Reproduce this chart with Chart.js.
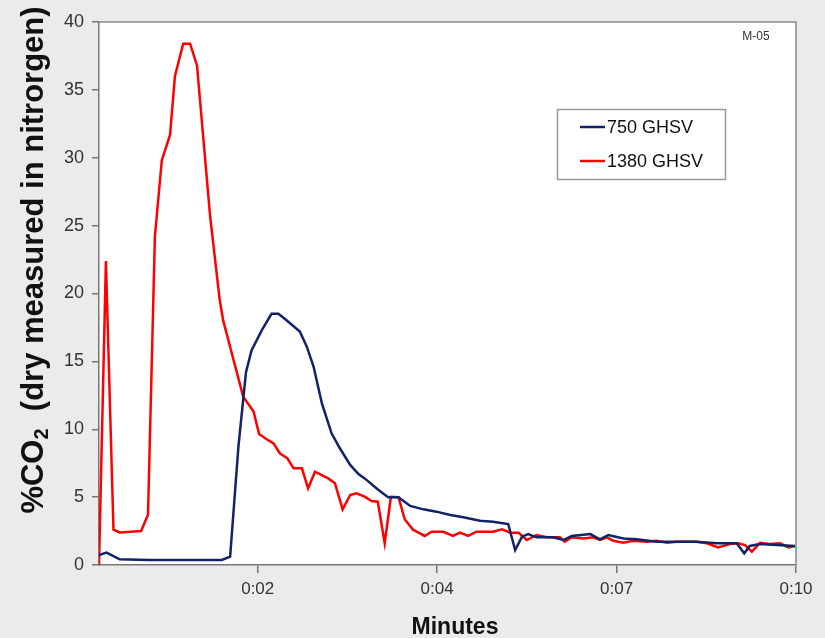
<!DOCTYPE html>
<html>
<head>
<meta charset="utf-8">
<script src="https://cdn.jsdelivr.net/npm/chart.js@4.4.0/dist/chart.umd.min.js"></script>
<style>
  html, body { margin: 0; padding: 0; background: #ebebeb; }
  #wrap { width: 825px; height: 638px; }
</style>
</head>
<body>
<div id="wrap"><canvas id="co2Chart" width="825" height="638"></canvas></div>
<script>
// data (x in minutes, y in %CO2)
const minutes750 = [0.00, 0.11, 0.30, 0.71, 1.20, 1.78, 1.90, 2.02, 2.13, 2.21, 2.36, 2.50, 2.60, 2.70, 2.91, 3.01, 3.11, 3.23, 3.37, 3.49, 3.64, 3.76, 3.85, 4.05, 4.19, 4.34, 4.51, 4.70, 4.89, 5.09, 5.28, 5.52, 5.71, 5.93, 6.03, 6.13, 6.22, 6.34, 6.58, 6.73, 6.85, 7.12, 7.26, 7.38, 7.60, 7.79, 8.08, 8.66, 8.95, 9.24, 9.35, 9.43, 9.58, 9.82, 10.09];
const co2_750 = [0.74, 0.91, 0.42, 0.37, 0.37, 0.37, 0.61, 8.7, 14.2, 15.8, 17.3, 18.5, 18.5, 18.1, 17.2, 16.1, 14.6, 11.9, 9.7, 8.6, 7.37, 6.70, 6.38, 5.52, 4.99, 4.99, 4.35, 4.10, 3.93, 3.68, 3.51, 3.26, 3.19, 3.02, 1.10, 2.09, 2.28, 2.04, 2.04, 1.84, 2.14, 2.28, 1.89, 2.21, 1.96, 1.89, 1.72, 1.72, 1.60, 1.60, 0.86, 1.40, 1.55, 1.47, 1.40];

const minutes1380 = [0.00, 0.10, 0.21, 0.30, 0.61, 0.71, 0.81, 0.91, 1.03, 1.10, 1.22, 1.32, 1.42, 1.61, 1.75, 1.80, 1.95, 2.09, 2.24, 2.32, 2.43, 2.53, 2.62, 2.73, 2.82, 2.94, 3.03, 3.13, 3.32, 3.42, 3.53, 3.64, 3.73, 3.85, 3.95, 4.04, 4.14, 4.23, 4.34, 4.43, 4.55, 4.65, 4.72, 4.82, 4.99, 5.13, 5.23, 5.35, 5.47, 5.71, 5.84, 5.96, 6.08, 6.20, 6.34, 6.49, 6.68, 6.75, 6.85, 7.02, 7.16, 7.26, 7.36, 7.45, 7.60, 7.74, 7.94, 8.08, 8.23, 8.37, 8.66, 8.81, 8.97, 9.14, 9.26, 9.36, 9.46, 9.58, 9.72, 9.87, 9.99, 10.09];
const co2_1380 = [0, 22.4, 2.6, 2.4, 2.5, 3.7, 24.2, 29.8, 31.7, 36.0, 38.4, 38.4, 36.8, 25.7, 19.5, 18.0, 15.1, 12.4, 11.3, 9.65, 9.26, 8.96, 8.23, 7.86, 7.12, 7.12, 5.65, 6.87, 6.38, 6.02, 4.10, 5.16, 5.28, 5.03, 4.71, 4.66, 1.60, 5.03, 4.99, 3.37, 2.6, 2.33, 2.14, 2.45, 2.45, 2.14, 2.38, 2.14, 2.45, 2.45, 2.63, 2.38, 2.38, 1.84, 2.21, 2.04, 2.04, 1.72, 2.04, 1.96, 2.04, 1.84, 2.04, 1.79, 1.64, 1.79, 1.72, 1.79, 1.64, 1.72, 1.72, 1.60, 1.30, 1.55, 1.60, 1.47, 0.98, 1.64, 1.55, 1.60, 1.30, 1.40];

const seriesLabels = ['750 GHSV', '1380 GHSV'];
const xTickMinutes = [2.3, 4.9, 7.5, 10.1];
const xTickLabels = ['0:02', '0:04', '0:07', '0:10'];

const FONT = "'Liberation Sans', Arial, sans-serif";
const BLUE = '#122268';
const RED = '#ff0000';

function toPoints(xs, ys) {
  return xs.map((x, i) => ({ x: x, y: ys[i] }));
}

// backgrounds, frame, axis titles, legend, note
const decorPlugin = {
  id: 'decor',
  beforeDraw(chart) {
    const { ctx, chartArea: a } = chart;
    ctx.save();
    ctx.fillStyle = '#ebebeb';
    ctx.fillRect(0, 0, chart.width, chart.height);
    ctx.fillStyle = '#ffffff';
    ctx.fillRect(a.left, a.top, a.right - a.left, a.bottom - a.top);
    ctx.restore();
  },
  afterDraw(chart) {
    const { ctx, chartArea: a } = chart;
    ctx.save();
    // top and right frame
    ctx.strokeStyle = '#8a8a8a';
    ctx.lineWidth = 1.5;
    ctx.beginPath();
    ctx.moveTo(a.left, a.top);
    ctx.lineTo(a.right, a.top);
    ctx.lineTo(a.right, a.bottom);
    ctx.stroke();

    // note
    ctx.fillStyle = '#333';
    ctx.font = '12px ' + FONT;
    ctx.textAlign = 'center';
    ctx.textBaseline = 'middle';
    ctx.fillText('M-05', 756, 37);

    // legend
    ctx.fillStyle = '#fff';
    ctx.fillRect(557.5, 109.5, 168, 70);
    ctx.strokeStyle = '#999';
    ctx.lineWidth = 1.5;
    ctx.strokeRect(557.5, 109.5, 168, 70);
    const colors = [BLUE, RED];
    const rows = [127, 161];
    ctx.font = '18px ' + FONT;
    ctx.textAlign = 'left';
    chart.data.datasets.forEach((ds, i) => {
      ctx.strokeStyle = colors[i];
      ctx.lineWidth = 2.5;
      ctx.beginPath();
      ctx.moveTo(580, rows[i]);
      ctx.lineTo(605, rows[i]);
      ctx.stroke();
      ctx.fillStyle = '#111';
      ctx.fillText(ds.label, 607, rows[i] + 1);
    });

    // x title
    ctx.fillStyle = '#111';
    ctx.font = 'bold 23px ' + FONT;
    ctx.textAlign = 'center';
    ctx.textBaseline = 'alphabetic';
    ctx.fillText('Minutes', 455, 634);

    // y title with subscript
    ctx.translate(34, 260);
    ctx.rotate(-Math.PI / 2);
    const big = 'bold 31px ' + FONT;
    const small = 'bold 20px ' + FONT;
    const parts = [
      { t: '%CO', f: big, dy: 0 },
      { t: '2', f: small, dy: 8 },
      { t: '  (dry measured in nitrorgen)', f: big, dy: 0 }
    ];
    let total = 0;
    parts.forEach(p => { ctx.font = p.f; p.w = ctx.measureText(p.t).width; total += p.w; });
    let x = -total / 2;
    ctx.textAlign = 'left';
    ctx.textBaseline = 'middle';
    parts.forEach(p => {
      ctx.font = p.f;
      ctx.fillText(p.t, x, p.dy);
      x += p.w;
    });
    ctx.restore();
  }
};

const co2Chart = new Chart(document.getElementById('co2Chart').getContext('2d'), {
  type: 'line',
  data: {
    datasets: [{
      label: seriesLabels[0],
      data: toPoints(minutes750, co2_750),
      borderColor: BLUE,
      backgroundColor: BLUE,
      borderWidth: 2.5,
      pointRadius: 0,
      tension: 0
    }, {
      label: seriesLabels[1],
      data: toPoints(minutes1380, co2_1380),
      borderColor: RED,
      backgroundColor: RED,
      borderWidth: 2.5,
      pointRadius: 0,
      tension: 0
    }]
  },
  options: {
    responsive: false,
    animation: false,
    layout: { padding: { top: 22, right: 29, left: 0, bottom: 0 } },
    plugins: {
      legend: { display: false },
      tooltip: { enabled: false }
    },
    scales: {
      x: {
        type: 'linear',
        min: 0,
        max: 10.1,
        afterBuildTicks(scale) {
          scale.ticks = xTickMinutes.map(v => ({ value: v }));
        },
        afterFit(scale) { scale.height = 73; },
        ticks: {
          autoSkip: false,
          maxRotation: 0,
          padding: 6,
          color: '#333',
          font: { family: FONT, size: 17 },
          callback: (value, index) => xTickLabels[index]
        },
        grid: { drawOnChartArea: false, tickLength: 8, color: '#777', lineWidth: 1.5 },
        border: { display: true, color: '#777', width: 1.5 }
      },
      y: {
        min: 0,
        max: 40,
        afterFit(scale) { scale.width = 99; },
        ticks: {
          stepSize: 5,
          padding: 8,
          color: '#333',
          font: { family: FONT, size: 18 }
        },
        grid: { drawOnChartArea: false, tickLength: 7, color: '#777', lineWidth: 1.5 },
        border: { display: true, color: '#777', width: 1.5 }
      }
    }
  },
  plugins: [decorPlugin]
});
</script>
</body>
</html>
